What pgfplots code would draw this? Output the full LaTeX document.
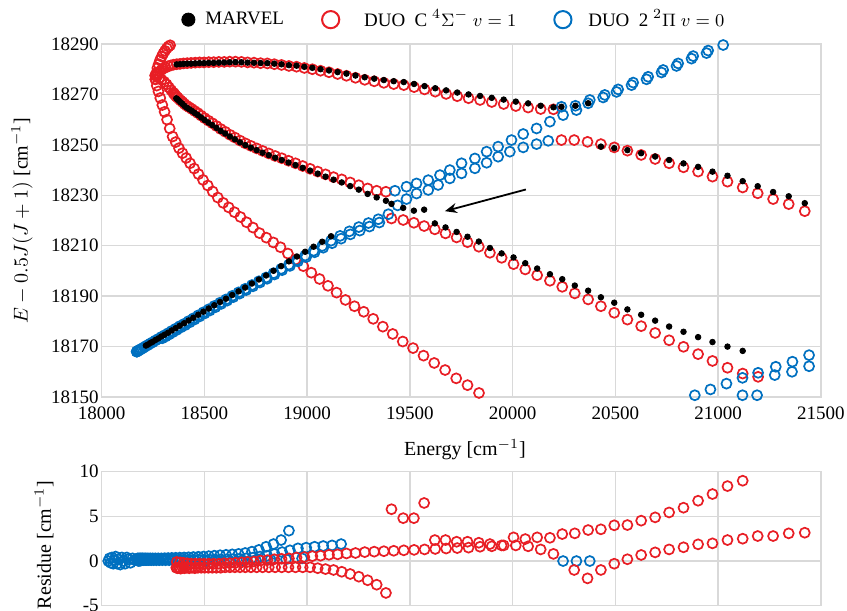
\documentclass[border=0pt]{standalone}
\usepackage{fontspec}
\setmainfont{Liberation Serif}
\usepackage{pgfplots}
\pgfplotsset{compat=1.18}
\usetikzlibrary{arrows.meta}
\definecolor{redc}{RGB}{232,30,37}
\definecolor{bluec}{RGB}{0,112,192}
\definecolor{gridc}{RGB}{217,217,217}
\pgfplotsset{
  mystyle/.style={
    scale only axis, width=359.65pt,
    xmin=18000, xmax=21500,
    xtick={18000,18500,...,21500},
    grid=major, grid style={draw=gridc, line width=0.75pt},
    axis line style={draw=gridc, line width=0.75pt},
    major tick length=0pt,
    tick label style={font=\fontsize{9.5}{11}\selectfont},
    yticklabel style={xshift=2pt},
    label style={font=\fontsize{10}{12}\selectfont},
    /pgf/number format/1000 sep={}, /pgf/number format/assume math mode=true,
    scaled ticks=false, clip=false,
  },
  rc/.style={only marks, mark=o, mark size=2.5pt, redc, mark options={line width=0.85pt}, forget plot},
  bc/.style={only marks, mark=o, mark size=2.5pt, bluec, mark options={line width=0.85pt}, forget plot},
  kc/.style={only marks, mark=*, mark size=1.4pt, black, forget plot},
}
\begin{document}
\begin{tikzpicture}
\begin{axis}[mystyle,
  at={(50.85pt,-22pt)}, anchor=north west, height=176.5pt,
  ymin=18150, ymax=18290, ytick={18150,18170,...,18290},
  xticklabel style={yshift=-1.5pt},
  xlabel={Energy [cm$^{-1}$]}, xlabel style={at={(axis description cs:0.505,-0.15)}, anchor=center},
  ylabel={$E-0.5J(J+1)$ [cm$^{-1}$]}, ylabel style={at={(axis description cs:-0.1108,0.5)}, anchor=center},
  legend style={at={(axis description cs:0.491,1.069)}, anchor=center, draw=none, fill=none,
    font=\fontsize{9.5}{11}\selectfont, legend columns=3,
    /tikz/every even column/.append style={column sep=16.5pt}},
]
\addlegendimage{legend image code/.code={\fill[black] (0.2cm,0pt) circle (3.3pt); \path (0.2cm+6.3pt,0pt);}}
\addlegendentry{MARVEL\hspace{44.8pt}}
\addlegendimage{legend image code/.code={\draw[redc, line width=1pt] (0.2cm,0pt) circle (4.3pt); \path (0.2cm+10.5pt,0pt);}}
\addlegendentry{\hspace{4pt}DUO\ \ C $^{4}\Sigma^{-}$ $v=1$}
\addlegendimage{legend image code/.code={\draw[bluec, line width=1pt] (0.2cm,0pt) circle (4.3pt); \path (0.2cm+6pt,0pt);}}
\addlegendentry{\hspace{4.5pt}DUO\ \ 2 $^{2}\Pi$ $v=0$}

% red a (upper)
\addplot[rc] coordinates {(18260,18277.5) (18266,18278) (18273,18278.5) (18281,18279) (18290,18279.7) (18300,18280.3) (18311,18280.7) (18323,18281.2) (18336,18281.5) (18350,18281.8) (18365,18282) (18381,18282.1) (18398,18282.3) (18416,18282.4) (18435,18282.5) (18455,18282.6) (18476,18282.7) (18498,18282.7) (18521,18282.8) (18545,18282.8) (18570,18282.9) (18596,18282.9) (18623,18283) (18651,18283) (18680,18282.9) (18710,18282.7) (18741,18282.6) (18773,18282.4) (18806,18282.3) (18840,18282) (18875,18281.7) (18911,18281.3) (18948,18281) (18986,18280.5) (19025,18280) (19065,18279.4) (19106,18278.8) (19148,18278.1) (19191,18277.4) (19235,18276.6) (19280,18275.8) (19326,18275.2) (19373,18274.6) (19421,18274.1) (19470,18273.7) (19520,18272.9) (19571,18272) (19623,18271.1) (19676,18270.2) (19730,18269.3) (19785,18268.5) (19841,18267.8) (19898,18267) (19956,18266.2) (20015,18265.4) (20075,18264.8) (20136,18264.2) (20198,18264.1)};
% red b (middle)
\addplot[rc] coordinates {(18268,18277.2) (18280,18276.5) (18292,18275.8) (18304,18275) (18316,18274) (18327,18272.8) (18338,18271.7) (18348,18270.7) (18351,18270.4) (18354,18270.1) (18358,18269.7) (18363,18269.2) (18369,18268.8) (18376,18268.2) (18384,18267.6) (18393,18267) (18403,18266.2) (18414,18265.5) (18426,18264.9) (18439,18264.2) (18453,18263.4) (18468,18262.6) (18484,18261.6) (18501,18260.6) (18519,18259.6) (18538,18258.6) (18558,18257.5) (18579,18256.3) (18601,18255.2) (18624,18254) (18648,18252.9) (18673,18251.7) (18699,18250.6) (18726,18249.6) (18754,18248.6) (18783,18247.6) (18813,18246.6) (18844,18245.6) (18876,18244.7) (18909,18243.7) (18943,18242.7) (18978,18241.6) (19014,18240.5) (19051,18239.4) (19089,18238.3) (19128,18237.2) (19168,18236.3) (19209,18235.1) (19251,18234) (19294,18232.7) (19338,18231.8) (19383,18231.4)};
% red c (lower steep)
\addplot[rc] coordinates {(18261,18276) (18268,18273.5) (18276,18271.2) (18285,18268.6) (18295,18265.8) (18306,18263.1) (18318,18260) (18331,18256.5) (18345,18253.3) (18360,18251.1) (18376,18248.7) (18393,18246.7) (18411,18244.8) (18430,18242.7) (18450,18240.6) (18471,18238.4) (18493,18236.1) (18516,18233.9) (18540,18231.5) (18565,18229.1) (18591,18227) (18618,18225.2) (18646,18223.3) (18675,18221.4) (18705,18219.3) (18736,18217.2) (18768,18215) (18801,18213.2) (18835,18211.3) (18870,18209.4) (18906,18206.9) (18943,18204.5) (18981,18201.9) (19020,18199.3) (19060,18196.8) (19101,18194.1) (19143,18191.4) (19186,18188.5) (19230,18186) (19275,18183.8) (19321,18181) (19368,18177.9) (19416,18175) (19465,18172) (19515,18169.4) (19566,18166.4) (19618,18163.5) (19671,18160.7) (19725,18157.4) (19780,18154.7) (19836,18151.6)};
% red d (hook)
\addplot[rc] coordinates {(18262,18276) (18266,18278.5) (18271,18280.5) (18277,18282) (18284,18283.6) (18292,18285) (18300,18286.3) (18308,18287.3) (18317,18288.3) (18325,18289) (18333,18289.5)};
% red e
\addplot[rc] coordinates {(19410,18220.8) (19467,18220.2) (19519,18219.1) (19569,18217.8) (19621,18216.5) (19673,18214.9) (19727,18213.3) (19780,18211.4) (19835,18209.6) (19889,18207.2) (19946,18205.2) (20004,18202.7) (20061,18200.6) (20119,18198.3) (20181,18196.1) (20241,18193.7) (20302,18191.1) (20367,18188.7) (20429,18186.0) (20494,18183.4) (20558,18180.7) (20625,18178.1) (20693,18175.4) (20761,18172.5) (20831,18169.9) (20902,18167.0) (20972,18164.3) (21045,18161.6) (21119,18159.3) (21194,18158.0)};
% red f
\addplot[rc] coordinates {(20237,18251.9) (20299,18251.9) (20364,18251.2) (20429,18250.3) (20494,18249.0) (20558,18247.7) (20625,18246.0) (20693,18244.4) (20761,18242.7) (20831,18241.1) (20902,18239.4) (20972,18237.4) (21045,18235.4) (21119,18233.1) (21192,18230.8) (21267,18228.5) (21343,18226.5) (21421,18223.7)};

% blue lower-left 1
\addplot[bc] coordinates {(18170,18168.0) (18171,18168.0) (18173,18168.1) (18176,18168.3) (18180,18168.5) (18185,18168.7) (18191,18169.0) (18198,18169.3) (18206,18169.7) (18215,18170.2) (18225,18170.6) (18236,18171.2) (18248,18171.7) (18261,18172.4) (18275,18173.0) (18290,18173.8) (18306,18174.5) (18323,18175.3) (18341,18176.2) (18360,18177.1) (18380,18178.1) (18401,18179.0) (18423,18180.1) (18446,18181.2) (18470,18182.4) (18495,18183.6) (18521,18184.8) (18548,18186.1) (18576,18187.4) (18605,18188.7) (18635,18190.1) (18666,18191.5) (18698,18192.9) (18731,18194.4) (18765,18195.9) (18800,18197.4) (18836,18199.1) (18873,18200.8) (18911,18202.5) (18950,18204.3) (18990,18206.1) (19031,18208.0) (19073,18209.9) (19116,18212.0) (19160,18213.9) (19205,18215.7) (19251,18217.4) (19298,18219.0) (19346,18220.5) (19395,18222.5)};
% blue lower-left 2
\addplot[bc] coordinates {(18295,18173.3) (18311,18174.0) (18328,18174.8) (18346,18175.7) (18365,18176.6) (18385,18177.6) (18406,18178.5) (18428,18179.6) (18451,18180.7) (18475,18181.9) (18500,18183.1) (18526,18184.3) (18553,18185.6) (18581,18186.9) (18610,18188.2) (18640,18189.6) (18671,18191.0) (18703,18192.4) (18736,18193.9) (18770,18195.4) (18805,18196.9) (18841,18198.6) (18878,18200.3) (18916,18202.0) (18955,18203.8) (18995,18205.5) (19036,18207.4) (19078,18209.2) (19121,18211.0) (19165,18212.8) (19210,18214.5) (19256,18216.0) (19303,18217.6) (19351,18219.2)};
% blue B2
\addplot[bc] coordinates {(19440,18226.0) (19483,18228.5) (19532,18230.7) (19589,18232.1) (19637,18234.1) (19694,18236.7) (19751,18238.7) (19816,18240.7) (19873,18242.9) (19929,18245.3) (19986,18247.3) (20051,18249.0) (20116,18250.3) (20173,18251.6)};
% blue B1
\addplot[bc] coordinates {(19427,18231.8) (19483,18233.4) (19532,18234.7) (19589,18236.0) (19646,18238.0) (19694,18240.0) (19751,18242.7) (19816,18244.6) (19873,18247.3) (19929,18249.3) (19994,18251.9) (20051,18254.3) (20116,18256.5) (20181,18259.2) (20245,18261.8) (20310,18263.8) (20375,18267.8) (20448,18269.8) (20513,18272.0) (20586,18274.7) (20659,18277.0) (20732,18279.7) (20805,18282.3) (20878,18285.2) (20951,18287.4) (21024,18289.6)};
% blue from upper red branch
\addplot[bc] coordinates {(20237,18265.1) (20305,18265.5) (20367,18266.5) (20440,18268.8) (20505,18271.0) (20578,18273.7) (20651,18276.0) (20724,18278.7) (20797,18281.3) (20870,18284.2) (20943,18286.4)};
% blue lower right
\addplot[bc] coordinates {(20886,18150.7) (20962,18153.0) (21040,18155.3) (21118,18157.6) (21194,18159.6) (21280,18162.0) (21361,18164.0) (21442,18166.6)};
\addplot[bc] coordinates {(21118,18150.7) (21189,18150.7) (21275,18158.7) (21359,18160.0) (21442,18162.2)};

% MARVEL
\addplot[kc] coordinates {(18215,18170.4) (18225,18170.8) (18236,18171.4) (18248,18171.9) (18261,18172.6) (18275,18173.2) (18290,18174.0) (18306,18174.7) (18323,18175.5) (18341,18176.4) (18360,18177.3) (18380,18178.3) (18401,18179.25) (18423,18180.35) (18446,18181.45) (18470,18182.65) (18495,18183.85) (18521,18185.1) (18548,18186.4) (18576,18187.7) (18605,18189.0) (18635,18190.45) (18666,18191.9) (18698,18193.4) (18731,18195.0) (18765,18196.6) (18800,18198.2) (18836,18200.05) (18873,18201.9) (18911,18203.8) (18950,18205.72) (18990,18207.6) (19031,18209.6) (19073,18211.58) (19116,18213.75)};
\addplot[kc] coordinates {(18365,18281.9) (18381,18282.0) (18398,18282.1) (18416,18282.2) (18435,18282.2) (18455,18282.3) (18476,18282.4) (18498,18282.4) (18521,18282.5) (18545,18282.5) (18570,18282.6) (18596,18282.65) (18623,18282.75) (18651,18282.8) (18680,18282.75) (18710,18282.6) (18741,18282.55) (18773,18282.45) (18806,18282.4) (18840,18282.2) (18875,18281.95) (18911,18281.6) (18948,18281.4) (18986,18280.95) (19025,18280.55) (19065,18280.0) (19106,18279.5) (19148,18278.85) (19191,18278.25) (19235,18277.5) (19280,18276.8) (19326,18276.25) (19373,18275.7) (19421,18275.25) (19470,18274.9) (19520,18274.15) (19571,18273.3) (19623,18272.45) (19676,18271.6) (19730,18270.75) (19785,18270.0) (19841,18269.4) (19898,18268.65) (19956,18267.95) (20015,18267.15) (20075,18266.45) (20136,18265.5) (20198,18264.9)};
\addplot[kc] coordinates {(18363,18268.45) (18369,18268.05) (18376,18267.45) (18384,18266.85) (18393,18266.25) (18403,18265.45) (18414,18264.75) (18426,18264.15) (18439,18263.45) (18453,18262.65) (18468,18261.85) (18484,18260.85) (18501,18259.85) (18519,18258.85) (18538,18257.85) (18558,18256.75) (18579,18255.55) (18601,18254.5) (18624,18253.3) (18648,18252.2) (18673,18251.0) (18699,18249.9) (18726,18248.9) (18754,18247.9) (18783,18246.9) (18813,18245.9) (18844,18244.9) (18876,18244.0) (18909,18243.0) (18943,18242.0) (18978,18240.9) (19014,18239.8) (19051,18238.6) (19089,18237.4) (19128,18236.2) (19168,18235.1) (19209,18233.65) (19251,18232.25) (19294,18230.55) (19338,18229.15) (19383,18227.83)};
\addplot[kc] coordinates {(19410,18226.6) (19467,18225.0) (19519,18223.9) (19569,18224.3) (19621,18218.85) (19673,18217.25) (19727,18215.46) (19780,18213.56) (19835,18211.65) (19889,18209.1) (19946,18206.95) (20004,18205.35) (20061,18203.06) (20119,18200.95) (20181,18198.7) (20241,18196.72) (20302,18194.2) (20367,18192.17) (20429,18189.55) (20494,18187.4) (20558,18184.73) (20625,18182.62) (20693,18180.29) (20761,18177.94) (20831,18175.87) (20902,18173.75) (20972,18171.8) (21045,18169.99) (21119,18168.29)};
\addplot[kc] coordinates {(20429,18249.3) (20494,18248.7) (20558,18247.9) (20625,18246.68) (20693,18245.37) (20761,18244.0) (20831,18242.64) (20902,18241.27) (20972,18239.38) (21045,18237.75) (21119,18235.6) (21192,18233.6) (21267,18231.3) (21343,18229.6) (21421,18226.87)};
\addplot[kc] coordinates {(20237,18265.1) (20305,18265.5) (20367,18266.5)};

\draw[-{Stealth[length=6pt,width=5pt]}, line width=0.9pt] (axis cs:20064,18232.3) -- (axis cs:19670,18223.7);
\end{axis}

\begin{axis}[mystyle,
  at={(50.85pt,-235.85pt)}, anchor=north west, height=67pt,
  ymin=-5, ymax=10, ytick={-5,0,5,10}, xticklabels={},
  ylabel={Residue [cm$^{-1}$]}, ylabel style={at={(axis description cs:-0.0802,0.455)}, anchor=center},
]
% blue residues
\addplot[bc] coordinates {(18032,0.0) (18038,0.3) (18044,-0.2) (18050,0.4) (18056,-0.3) (18062,0.1) (18068,0.5) (18075,-0.3) (18082,0.2) (18090,-0.4) (18098,0.4) (18106,0.0) (18114,-0.3) (18122,0.4) (18130,0.2) (18140,-0.2) (18150,0.3) (18160,0.1)};
\addplot[bc] coordinates {(18170,0.2) (18171,0.25) (18173,0.2) (18176,0.3) (18180,0.25) (18185,0.3) (18191,0.3) (18198,0.3) (18206,0.3) (18215,0.3) (18225,0.3) (18236,0.3) (18248,0.3) (18261,0.3) (18275,0.3) (18290,0.3) (18306,0.32) (18323,0.33) (18341,0.35) (18360,0.36) (18380,0.38) (18401,0.4) (18423,0.42) (18446,0.45) (18470,0.48) (18495,0.5) (18521,0.55) (18548,0.6) (18576,0.65) (18605,0.7) (18635,0.75) (18666,0.8) (18698,0.9) (18731,1.05) (18765,1.25) (18800,1.6) (18836,1.9) (18873,2.35) (18911,3.4)};
\addplot[bc] coordinates {(18175,0.05) (18178,0.1) (18181,0.0) (18185,0.1) (18190,0.05) (18196,0.1) (18203,0.1) (18211,0.1) (18220,0.1) (18230,0.1) (18241,0.1) (18253,0.1) (18266,0.1) (18280,0.1) (18295,0.1) (18311,0.1) (18328,0.1) (18346,0.12) (18365,0.12) (18385,0.12) (18406,0.13) (18428,0.13) (18451,0.14) (18475,0.15) (18500,0.15) (18526,0.16) (18553,0.17) (18581,0.18) (18610,0.2) (18640,0.22) (18671,0.25) (18703,0.3) (18736,0.38) (18770,0.5) (18805,0.6) (18841,0.8) (18878,1.0) (18916,1.2) (18955,1.42) (18995,1.5) (19036,1.6) (19078,1.68) (19121,1.75) (19165,1.9)};
\addplot[bc] coordinates {(18412,-0.05) (18458,0.0) (18508,0.0) (18562,0.05) (18620,0.05) (18684,0.1) (18750,0.1) (18822,0.15) (18897,0.2) (18975,0.3)};
\addplot[bc] coordinates {(20245,0) (20310,0) (20375,0)};
% red residues
\addplot[rc] coordinates {(18365,-0.1) (18381,-0.15) (18398,-0.2) (18416,-0.25) (18435,-0.3) (18455,-0.3) (18476,-0.3) (18498,-0.3) (18521,-0.3) (18545,-0.3) (18570,-0.3) (18596,-0.25) (18623,-0.25) (18651,-0.2) (18680,-0.15) (18710,-0.1) (18741,-0.05) (18773,0.05) (18806,0.1) (18840,0.2) (18875,0.25) (18911,0.3) (18948,0.4) (18986,0.45) (19025,0.55) (19065,0.6) (19106,0.7) (19148,0.75) (19191,0.85) (19235,0.9) (19280,1.0) (19326,1.05) (19373,1.1) (19421,1.15) (19470,1.2) (19520,1.25) (19571,1.3) (19623,1.35) (19676,1.4) (19730,1.45) (19785,1.5) (19841,1.6) (19898,1.65) (19956,1.75) (20015,1.75) (20075,1.65) (20136,1.3) (20198,0.8)};
\addplot[rc] coordinates {(18363,-0.75) (18369,-0.8) (18376,-0.75) (18384,-0.85) (18393,-0.75) (18403,-0.8) (18414,-0.75) (18426,-0.8) (18439,-0.75) (18453,-0.8) (18468,-0.75) (18484,-0.75) (18501,-0.75) (18519,-0.75) (18538,-0.75) (18558,-0.75) (18579,-0.75) (18601,-0.7) (18624,-0.7) (18648,-0.7) (18673,-0.7) (18699,-0.7) (18726,-0.7) (18754,-0.7) (18783,-0.7) (18813,-0.7) (18844,-0.7) (18876,-0.7) (18909,-0.7) (18943,-0.7) (18978,-0.7) (19014,-0.7) (19051,-0.8) (19089,-0.9) (19128,-1.0) (19168,-1.2) (19209,-1.45) (19251,-1.75) (19294,-2.15) (19338,-2.65) (19383,-3.57)};
\addplot[rc] coordinates {(19410,5.8) (19467,4.8) (19519,4.8) (19569,6.5) (19621,2.35) (19673,2.35) (19727,2.16) (19780,2.16) (19835,2.05) (19889,1.9) (19946,1.75) (20004,2.65) (20061,2.46) (20119,2.65) (20181,2.6) (20241,3.02) (20302,3.1) (20367,3.47) (20429,3.55) (20494,4.0) (20558,4.03) (20625,4.52) (20693,4.89) (20761,5.44) (20831,5.97) (20902,6.75) (20972,7.5) (21045,8.39) (21119,8.99)};
\addplot[rc] coordinates {(20299,-1.0) (20364,-1.94) (20429,-1.0) (20494,-0.3) (20558,0.2) (20625,0.68) (20693,0.97) (20761,1.3) (20831,1.54) (20902,1.87) (20972,1.98) (21045,2.35) (21119,2.5) (21192,2.8) (21267,2.8) (21343,3.1) (21421,3.17)};
\end{axis}
\pgfresetboundingbox
\path[use as bounding box] (0pt,0pt) rectangle (423.5pt,-305.5pt);
\end{tikzpicture}
\end{document}
